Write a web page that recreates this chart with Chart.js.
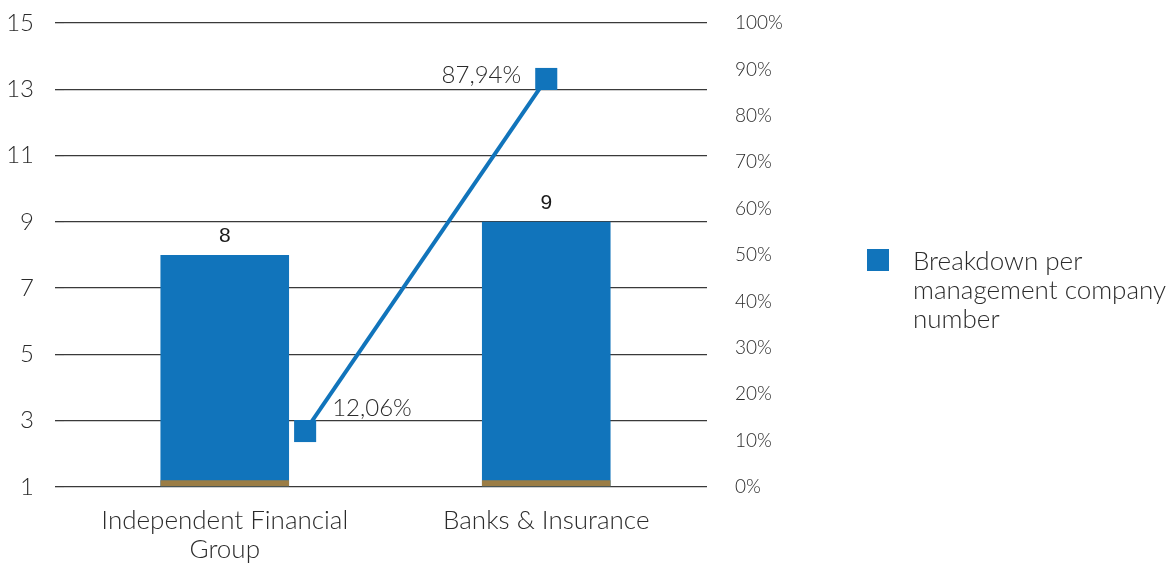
<!DOCTYPE html>
<html>
<head>
<meta charset="utf-8">
<script src="https://cdn.jsdelivr.net/npm/chart.js@4.4.1/dist/chart.umd.min.js"></script>
<style>
  html, body { margin: 0; padding: 0; background: #ffffff; }
  #wrap { position: relative; width: 1176px; height: 564px; }
</style>
</head>
<body>
<div id="wrap"><canvas id="chart" width="1176" height="564"></canvas></div>
<script>
// Categories and series
const categories = [['Independent Financial', 'Group'], 'Banks & Insurance'];
const companyCounts = [8, 9];          // management companies per group
const baseAccent = [1.2, 1.2];         // thin accent band at the foot of each bar
const sharePercent = [12.06, 87.94];   // share of the total, in percent
const legendLabel = ['Breakdown per', 'management company', 'number'];

// Tick settings
const countTicks = { min: 1, max: 15, step: 2 };
const percentTicks = { min: 0, max: 100, step: 10 };

const BLUE = '#1174bb';
const BROWN = '#9b7d45';
const TEXT = '#2b2b2b';
const GRID = '#3a3a3a';
const LIGHT_FONT = "'Lato', 'DejaVu Sans', sans-serif";

const fmtPercent = v => v.toFixed(2).replace('.', ',') + '%';

// Vertical axes keep a fixed width and do not push the plot area down
const fixWidth = w => scale => {
  scale.width = w;
  scale.paddingTop = 0;
  scale.paddingBottom = 0;
};

// Value labels above bars and beside line points, plus a wrapped legend on the right
const annotate = {
  id: 'annotate',
  afterDatasetsDraw(chart) {
    const ctx = chart.ctx;
    ctx.save();
    // bar values
    const barMeta = chart.getDatasetMeta(0);
    ctx.font = "21px 'Liberation Sans', Arial, sans-serif";
    ctx.fillStyle = '#1a1a1a';
    ctx.textAlign = 'center';
    ctx.textBaseline = 'middle';
    barMeta.data.forEach((el, i) => {
      ctx.fillText(String(companyCounts[i]), el.x, el.y - 19);
    });
    // line values
    const lineMeta = chart.getDatasetMeta(2);
    ctx.font = "300 24px " + LIGHT_FONT;
    ctx.fillStyle = TEXT;
    lineMeta.data.forEach((el, i) => {
      const txt = fmtPercent(sharePercent[i]);
      if (i === 0) {
        ctx.textAlign = 'left';
        ctx.fillText(txt, el.x + 27, el.y - 23);
      } else {
        ctx.textAlign = 'right';
        ctx.fillText(txt, el.x - 25, el.y - 4);
      }
    });
    // legend
    const lx = 867, ly = 249;
    ctx.fillStyle = BLUE;
    ctx.fillRect(lx, ly, 22, 22);
    ctx.font = "300 26px " + LIGHT_FONT;
    ctx.fillStyle = TEXT;
    ctx.textAlign = 'left';
    legendLabel.forEach((line, i) => {
      ctx.fillText(line, 913, 262 + i * 29);
    });
    ctx.restore();
  }
};

new Chart(document.getElementById('chart'), {
  data: {
    labels: categories,
    datasets: [
      {
        type: 'bar',
        label: 'Breakdown per management company number',
        data: companyCounts,
        base: countTicks.min,
        backgroundColor: BLUE,
        grouped: false,
        barPercentage: 0.4,
        categoryPercentage: 1,
        yAxisID: 'y',
        order: 2
      },
      {
        type: 'bar',
        label: 'accent',
        data: baseAccent,
        base: countTicks.min,
        backgroundColor: BROWN,
        grouped: false,
        barPercentage: 0.4,
        categoryPercentage: 1,
        yAxisID: 'y',
        order: 1
      },
      {
        type: 'line',
        label: 'share',
        data: sharePercent.map((v, i) => ({ x: 1.5 * (i + 1), y: v })),
        xAxisID: 'x2',
        yAxisID: 'y1',
        borderColor: BLUE,
        backgroundColor: BLUE,
        borderWidth: 4,
        pointStyle: 'rect',
        pointRadius: 15.6,
        pointBorderWidth: 0,
        pointHoverRadius: 15.6,
        tension: 0,
        order: 0
      }
    ]
  },
  options: {
    responsive: false,
    animation: false,
    events: [],
    layout: { padding: { top: 23, left: 0, right: 0, bottom: 0 } },
    plugins: {
      legend: { display: false },
      tooltip: { enabled: false }
    },
    scales: {
      x: {
        type: 'category',
        offset: true,
        grid: { display: false, drawTicks: false },
        border: { display: false },
        ticks: {
          color: TEXT,
          font: { family: LIGHT_FONT, size: 26, weight: '300', lineHeight: 1.12 },
          padding: 19,
          maxRotation: 0
        },
        afterFit(scale) { scale.height = 77; }
      },
      x2: {
        type: 'linear',
        display: false,
        min: 0,
        max: 4
      },
      y: {
        position: 'left',
        min: countTicks.min,
        max: countTicks.max,
        ticks: {
          stepSize: countTicks.step,
          color: TEXT,
          font: { family: LIGHT_FONT, size: 24, weight: '300' },
          padding: 21
        },
        grid: { color: GRID, lineWidth: 1.3, drawTicks: true, tickLength: 9 },
        border: { display: false },
        afterFit: fixWidth(64)
      },
      y1: {
        position: 'right',
        min: percentTicks.min,
        max: percentTicks.max,
        ticks: {
          stepSize: percentTicks.step,
          color: TEXT,
          font: { family: LIGHT_FONT, size: 19, weight: '300' },
          padding: 28,
          callback: v => v + '%'
        },
        grid: { display: false, drawTicks: false },
        border: { display: false },
        afterFit: fixWidth(469)
      }
    }
  },
  plugins: [annotate]
});
</script>
</body>
</html>
